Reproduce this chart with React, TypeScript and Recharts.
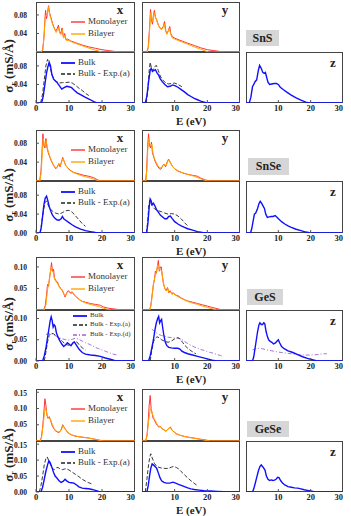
import React from 'react';
import { Line, LineChart, XAxis, YAxis } from 'recharts';

type Pt = [number, number];

// energy axis and tick sets
const energyTicks = [0, 10, 20, 30];
const snTicks = [0, 0.04, 0.08];
const gesTicks = [0, 0.05, 0.1];
const geseTicks = [0, 0.05, 0.1, 0.15];
const materials = ['SnS', 'SnSe', 'GeS', 'GeSe'];

// ---- SnS ----
const snsXMono: Pt[] = [[0,0],[1.5,0],[2,0.004],[2.4,0.03],[2.7,0.07],[2.9,0.09],[3.2,0.072],[3.5,0.085],[3.8,0.1],[4.1,0.085],[4.5,0.075],[5,0.062],[5.5,0.052],[6,0.045],[6.4,0.05],[6.8,0.058],[7.1,0.045],[7.5,0.04],[7.9,0.052],[8.3,0.032],[8.7,0.04],[9.1,0.026],[9.6,0.028],[10.5,0.024],[12,0.02],[14,0.015],[16,0.011],[18,0.008],[20,0.005],[22,0.003],[24,0.001],[26,0],[30,0]];
const snsXBi: Pt[] = [[0,0],[1.6,0],[2.1,0.006],[2.5,0.04],[2.8,0.075],[3.1,0.08],[3.4,0.078],[3.8,0.098],[4.2,0.08],[4.6,0.07],[5.1,0.058],[5.6,0.05],[6.1,0.042],[6.5,0.048],[6.9,0.052],[7.2,0.04],[7.6,0.038],[8,0.048],[8.4,0.03],[8.8,0.036],[9.2,0.025],[10,0.025],[11,0.021],[13,0.016],[15,0.011],[17,0.006],[19,0.002],[20,0],[30,0]];
const snsXBulk: Pt[] = [[0,0],[1.7,0],[2.2,0.015],[2.7,0.04],[3.2,0.065],[3.6,0.078],[4,0.088],[4.4,0.08],[4.8,0.062],[5.3,0.052],[5.8,0.048],[6.3,0.045],[7,0.038],[7.8,0.03],[8.5,0.033],[9.3,0.036],[10,0.035],[10.8,0.033],[11.5,0.028],[12.5,0.022],[13.5,0.018],[15,0.012],[16.5,0.007],[17.5,0.003],[18.5,0],[30,0]];
const snsXExp: Pt[] = [[1.4,0],[2,0.02],[2.5,0.05],[3,0.08],[3.5,0.094],[4,0.085],[4.5,0.07],[5,0.058],[5.6,0.05],[6.3,0.046],[7,0.043],[8,0.044],[9,0.044],[10,0.045],[11,0.043],[12,0.038],[13,0.032],[14,0.027],[15,0.021],[16,0.016]];
const snsYMono: Pt[] = [[0,0],[1.5,0],[1.9,0.01],[2.3,0.05],[2.6,0.092],[2.9,0.07],[3.2,0.06],[3.5,0.08],[3.8,0.09],[4.1,0.075],[4.5,0.07],[5,0.058],[5.5,0.052],[6,0.05],[6.5,0.055],[6.9,0.066],[7.3,0.045],[7.7,0.04],[8.1,0.047],[8.5,0.055],[8.8,0.04],[9.3,0.033],[10,0.03],[11,0.027],[12.5,0.023],[14,0.019],[16,0.014],[18,0.009],[20,0.005],[22,0.003],[24,0.001],[26,0],[30,0]];
const snsYBi: Pt[] = [[0,0],[1.6,0],[2,0.012],[2.4,0.055],[2.7,0.085],[3,0.072],[3.3,0.065],[3.7,0.085],[4,0.078],[4.4,0.07],[4.9,0.06],[5.4,0.052],[5.9,0.048],[6.4,0.052],[6.8,0.06],[7.2,0.046],[7.6,0.038],[8,0.045],[8.4,0.05],[8.8,0.038],[9.3,0.03],[10,0.028],[11,0.025],[12.5,0.021],[14,0.017],[16,0.011],[18,0.006],[19.5,0.002],[20.5,0],[30,0]];
const snsYBulk: Pt[] = [[0,0],[1,0],[1.5,0.015],[2,0.045],[2.5,0.07],[2.8,0.075],[3.2,0.068],[3.6,0.07],[4.1,0.072],[4.6,0.065],[5.1,0.06],[5.6,0.052],[6.2,0.046],[7,0.04],[7.8,0.035],[8.6,0.036],[9.4,0.039],[10.2,0.037],[11,0.034],[12,0.029],[13,0.024],[14,0.018],[15,0.014],[16,0.01],[17,0.007],[18,0.004],[19,0.002],[20,0],[30,0]];
const snsYExp: Pt[] = [[1.3,0],[1.8,0.03],[2.2,0.07],[2.5,0.088],[2.9,0.075],[3.3,0.07],[3.8,0.078],[4.4,0.081],[5,0.07],[5.6,0.058],[6.3,0.05],[7,0.045],[8,0.041],[9,0.042],[10,0.043],[11,0.04],[12,0.036],[12.5,0.033]];
const snsZBulk: Pt[] = [[0,0],[1,0],[1.5,0.012],[2,0.035],[2.4,0.04],[2.8,0.046],[3.3,0.05],[3.8,0.07],[4.2,0.081],[4.7,0.075],[5.2,0.066],[5.6,0.064],[6,0.066],[6.4,0.055],[6.8,0.045],[7.3,0.04],[8,0.041],[8.7,0.042],[9.4,0.042],[10,0.04],[10.6,0.034],[11.5,0.029],[12.5,0.024],[14,0.017],[15.5,0.011],[17,0.006],[18.5,0.002],[19.5,0],[30,0]];

// ---- SnSe ----
const snseXMono: Pt[] = [[0,0],[1.1,0],[1.5,0.02],[1.8,0.06],[2.1,0.1],[2.4,0.075],[2.7,0.07],[3,0.09],[3.3,0.072],[3.7,0.06],[4.2,0.05],[4.8,0.04],[5.4,0.032],[6,0.026],[6.5,0.03],[6.9,0.037],[7.3,0.03],[7.7,0.04],[8.1,0.05],[8.5,0.042],[9,0.033],[9.6,0.028],[10.5,0.022],[11.5,0.018],[13,0.015],[14.5,0.012],[16,0.01],[17.5,0.007],[18.5,0.003],[19.5,0],[30,0]];
const snseXBi: Pt[] = [[0,0],[1.2,0],[1.6,0.02],[1.9,0.06],[2.2,0.09],[2.5,0.078],[2.8,0.075],[3.1,0.085],[3.5,0.068],[3.9,0.058],[4.4,0.048],[5,0.038],[5.6,0.03],[6.1,0.028],[6.6,0.032],[7,0.036],[7.4,0.032],[7.8,0.042],[8.2,0.048],[8.6,0.04],[9.1,0.032],[9.8,0.026],[10.5,0.021],[12,0.016],[13.5,0.012],[15,0.009],[16.5,0.006],[18,0.003],[19,0],[30,0]];
const snseXBulk: Pt[] = [[0,0],[1.2,0],[1.6,0.012],[2,0.035],[2.4,0.06],[2.8,0.074],[3.2,0.078],[3.6,0.068],[4,0.056],[4.5,0.046],[5,0.038],[5.6,0.032],[6.3,0.028],[7,0.027],[7.6,0.03],[8,0.035],[8.4,0.03],[9,0.027],[9.8,0.023],[10.8,0.018],[12,0.013],[13.5,0.008],[15,0.005],[16.5,0.003],[18,0.001],[19,0],[30,0]];
const snseXExp: Pt[] = [[1.3,0],[1.8,0.025],[2.3,0.05],[2.8,0.065],[3.2,0.068],[3.6,0.06],[4.2,0.052],[5,0.046],[6,0.042],[7,0.04],[8,0.043],[9,0.047],[10,0.048],[11,0.044],[12,0.036],[13,0.028],[14,0.02],[15,0.014]];
const snseYMono: Pt[] = [[0,0],[1.1,0],[1.4,0.02],[1.7,0.07],[2,0.1],[2.3,0.075],[2.6,0.07],[2.9,0.082],[3.2,0.06],[3.6,0.05],[4.1,0.04],[4.7,0.032],[5.3,0.026],[5.8,0.025],[6.3,0.032],[6.8,0.036],[7.2,0.03],[7.7,0.04],[8.1,0.046],[8.6,0.04],[9.2,0.032],[10,0.026],[11,0.021],[12.5,0.017],[14,0.014],[15.5,0.012],[17,0.01],[18,0.006],[19.5,0.002],[21,0],[30,0]];
const snseYBi: Pt[] = [[0,0],[1.2,0],[1.5,0.025],[1.8,0.07],[2.1,0.09],[2.4,0.078],[2.7,0.074],[3,0.078],[3.4,0.058],[3.8,0.048],[4.3,0.04],[4.9,0.032],[5.5,0.028],[6,0.028],[6.5,0.034],[7,0.035],[7.4,0.032],[7.9,0.042],[8.3,0.045],[8.8,0.038],[9.4,0.03],[10.2,0.025],[11.5,0.02],[13,0.016],[14.5,0.013],[16,0.01],[17.5,0.006],[19,0.002],[20,0],[30,0]];
const snseYBulk: Pt[] = [[0,0],[1.4,0],[1.8,0.02],[2.2,0.055],[2.5,0.072],[2.8,0.068],[3.1,0.06],[3.5,0.063],[3.9,0.058],[4.4,0.05],[5,0.044],[5.6,0.038],[6.3,0.034],[7,0.03],[7.6,0.03],[8.2,0.035],[8.7,0.036],[9.2,0.031],[10,0.024],[11,0.019],[12,0.015],[13,0.012],[14,0.009],[15.5,0.006],[17,0.003],[18.5,0.001],[20,0],[30,0]];
const snseYExp: Pt[] = [[1.4,0],[1.8,0.03],[2.1,0.06],[2.4,0.07],[2.8,0.062],[3.3,0.055],[4,0.05],[5,0.047],[6,0.045],[7,0.042],[8,0.04],[9,0.041],[10,0.04],[11,0.036],[12,0.03],[13,0.022],[14,0.015]];
const snseZBulk: Pt[] = [[0,0],[1.4,0],[1.8,0.01],[2.2,0.025],[2.6,0.04],[3,0.042],[3.5,0.05],[4,0.062],[4.4,0.067],[4.9,0.062],[5.3,0.057],[5.7,0.052],[6.1,0.04],[6.6,0.033],[7.2,0.034],[7.8,0.035],[8.4,0.035],[9,0.037],[9.5,0.034],[10.2,0.029],[11,0.024],[12,0.019],[13,0.015],[14,0.012],[15.5,0.008],[17,0.005],[18.5,0.002],[20,0],[30,0]];

// ---- GeS ----
const gesXMono: Pt[] = [[0,0],[2.3,0],[2.8,0.01],[3.2,0.035],[3.5,0.06],[3.8,0.055],[4.1,0.075],[4.4,0.09],[4.7,0.11],[5,0.09],[5.3,0.095],[5.6,0.075],[6,0.068],[6.5,0.065],[7,0.055],[7.5,0.05],[8,0.046],[8.4,0.038],[8.8,0.03],[9.3,0.04],[9.8,0.045],[10.4,0.04],[11,0.042],[11.6,0.035],[12.3,0.03],[13,0.025],[14,0.02],[15,0.018],[16.5,0.015],[18,0.013],[19.5,0.011],[20.5,0.007],[22,0.004],[24,0.002],[26,0],[30,0]];
const gesXBi: Pt[] = [[0,0],[2.5,0],[3,0.012],[3.4,0.04],[3.7,0.06],[4,0.065],[4.3,0.085],[4.6,0.1],[4.9,0.09],[5.2,0.088],[5.5,0.075],[6,0.066],[6.5,0.062],[7,0.054],[7.5,0.048],[8,0.045],[8.5,0.036],[8.9,0.032],[9.4,0.04],[9.9,0.043],[10.5,0.038],[11.1,0.04],[11.7,0.033],[12.5,0.028],[13.5,0.022],[14.5,0.018],[16,0.014],[17.5,0.011],[19,0.008],[20.5,0.004],[22,0.001],[23,0],[30,0]];
const gesXBulk: Pt[] = [[0,0],[2,0],[2.5,0.012],[3,0.03],[3.5,0.055],[4,0.08],[4.3,0.095],[4.6,0.104],[4.9,0.095],[5.2,0.08],[5.5,0.085],[5.8,0.082],[6.2,0.066],[6.7,0.056],[7.2,0.048],[7.8,0.04],[8.4,0.034],[9,0.038],[9.5,0.043],[10,0.04],[10.6,0.036],[11.2,0.043],[11.6,0.045],[12.2,0.038],[13,0.028],[14,0.02],[15,0.016],[16.5,0.014],[18,0.013],[19.5,0.011],[21,0.007],[22.5,0.004],[24,0.001],[25,0],[30,0]];
const gesXExpA: Pt[] = [[2.5,0],[3,0.02],[3.5,0.045],[4,0.06],[4.6,0.066],[5.3,0.064],[6,0.06],[7,0.054],[8,0.046],[9,0.039],[10,0.037],[11,0.04],[11.8,0.046],[12.5,0.044],[13.3,0.036],[14.2,0.03],[15,0.026]];
const gesXExpD: Pt[] = [[3,0.062],[3.5,0.064],[4,0.065],[5,0.063],[6,0.059],[7,0.055],[8,0.052],[9,0.05],[10,0.049],[11,0.051],[12,0.054],[13,0.051],[14,0.047],[15,0.043],[16,0.04],[17,0.036],[18,0.032],[19,0.029],[20,0.026],[21,0.023],[22,0.02],[23,0.017],[24,0.015],[25,0.014]];
const gesYMono: Pt[] = [[0,0],[2.3,0],[2.7,0.01],[3.1,0.035],[3.5,0.06],[3.8,0.07],[4.1,0.09],[4.4,0.085],[4.7,0.1],[5,0.115],[5.3,0.09],[5.6,0.1],[5.9,0.1],[6.2,0.08],[6.6,0.06],[7,0.05],[7.4,0.045],[7.8,0.052],[8.2,0.04],[8.6,0.045],[9.1,0.038],[9.6,0.04],[10.2,0.035],[11,0.033],[12,0.028],[13,0.024],[14,0.021],[15.5,0.018],[17,0.015],[18.5,0.012],[20,0.009],[21.5,0.006],[23,0.003],[24,0.001],[25,0],[30,0]];
const gesYBi: Pt[] = [[0,0],[2.4,0],[2.8,0.012],[3.2,0.04],[3.6,0.065],[3.9,0.075],[4.2,0.085],[4.5,0.09],[4.8,0.105],[5.1,0.1],[5.4,0.092],[5.7,0.095],[6,0.09],[6.3,0.075],[6.7,0.058],[7.1,0.048],[7.5,0.044],[7.9,0.05],[8.3,0.04],[8.7,0.043],[9.2,0.036],[9.7,0.038],[10.3,0.034],[11,0.031],[12,0.027],[13,0.023],[14,0.02],[15.5,0.016],[17,0.013],[18.5,0.009],[20,0.006],[21.5,0.003],[23,0],[30,0]];
const gesYBulk: Pt[] = [[0,0],[2,0],[2.5,0.012],[3,0.03],[3.5,0.05],[4,0.075],[4.4,0.09],[4.8,0.1],[5.1,0.105],[5.4,0.09],[5.7,0.095],[6,0.098],[6.3,0.08],[6.7,0.06],[7.1,0.045],[7.6,0.036],[8.2,0.032],[9,0.031],[10,0.03],[11,0.03],[11.6,0.028],[12.2,0.023],[13,0.02],[14,0.017],[15.5,0.014],[17,0.011],[18.5,0.008],[20,0.005],[21.5,0.002],[23,0],[30,0]];
const gesYExpA: Pt[] = [[2.5,0],[3,0.025],[3.5,0.045],[4,0.053],[4.6,0.057],[5.2,0.055],[6,0.05],[7,0.046],[8,0.044],[9,0.047],[10,0.052],[11,0.055],[11.6,0.052],[12.4,0.044],[13.2,0.036],[14,0.03],[15,0.024],[16,0.019],[16.5,0.017]];
const gesYExpD: Pt[] = [[3,0.075],[4,0.068],[5,0.063],[6,0.06],[7,0.058],[8,0.056],[9,0.055],[10,0.054],[11,0.054],[12,0.052],[13,0.046],[14,0.041],[15,0.037],[16,0.033],[17,0.03],[18,0.027],[19,0.025],[20,0.022],[21,0.02],[22,0.018],[23,0.015],[24,0.013],[25,0.011]];
const gesZBulk: Pt[] = [[0,0],[2,0],[2.4,0.01],[2.8,0.03],[3.2,0.05],[3.6,0.07],[4,0.085],[4.3,0.09],[4.7,0.086],[5.1,0.086],[5.5,0.09],[5.8,0.088],[6.2,0.07],[6.6,0.058],[7,0.05],[7.5,0.046],[8,0.044],[8.5,0.04],[9,0.042],[9.5,0.046],[10,0.05],[10.4,0.043],[11,0.034],[11.8,0.029],[13,0.024],[14.5,0.02],[16,0.015],[17.5,0.01],[19,0.006],[20.5,0.003],[22,0],[30,0]];
const gesZExpD: Pt[] = [[2,0.026],[3,0.029],[4,0.03],[5,0.029],[6,0.027],[8,0.024],[10,0.021],[12,0.019],[14,0.017],[16,0.015],[18,0.014],[20,0.014],[22,0.015],[24,0.017],[25,0.017]];

// ---- GeSe ----
const geseXMono: Pt[] = [[0,0],[1.2,0],[1.6,0.01],[2,0.04],[2.4,0.09],[2.7,0.13],[3,0.11],[3.3,0.08],[3.6,0.07],[4,0.075],[4.4,0.065],[4.8,0.05],[5.3,0.04],[5.8,0.032],[6.4,0.028],[7,0.026],[7.6,0.034],[8.1,0.05],[8.5,0.042],[9,0.035],[9.6,0.026],[10.5,0.02],[11.5,0.016],[13,0.013],[14.5,0.011],[16,0.009],[17.5,0.006],[19,0.003],[20,0.001],[21,0],[30,0]];
const geseXBi: Pt[] = [[0,0],[1.3,0],[1.7,0.012],[2.1,0.045],[2.5,0.08],[2.8,0.1],[3.1,0.095],[3.4,0.078],[3.8,0.07],[4.2,0.07],[4.6,0.06],[5,0.05],[5.5,0.038],[6,0.032],[6.6,0.028],[7.2,0.028],[7.8,0.038],[8.2,0.048],[8.7,0.04],[9.2,0.032],[10,0.024],[11,0.018],[12.5,0.014],[14,0.012],[15.5,0.01],[17,0.007],[18.5,0.004],[19.5,0.001],[20.5,0],[30,0]];
const geseXBulk: Pt[] = [[0,0],[1.5,0],[2,0.015],[2.5,0.04],[3,0.065],[3.5,0.085],[3.9,0.098],[4.3,0.092],[4.8,0.078],[5.3,0.062],[5.8,0.05],[6.4,0.043],[7,0.035],[7.6,0.03],[8.2,0.033],[8.8,0.04],[9.3,0.035],[10,0.03],[10.8,0.029],[11.5,0.028],[12.3,0.022],[13,0.016],[14,0.012],[15,0.011],[16,0.01],[17,0.008],[18,0.005],[19,0.002],[20,0],[30,0]];
const geseXExp: Pt[] = [[1,0],[1.5,0.02],[2,0.05],[2.5,0.085],[3,0.105],[3.4,0.11],[3.8,0.1],[4.3,0.088],[4.9,0.075],[5.5,0.07],[6.1,0.076],[6.7,0.077],[7.3,0.072],[8,0.07],[8.6,0.072],[9.2,0.073],[10,0.069],[11,0.062],[12,0.055],[13,0.048],[14,0.04],[15,0.034],[16,0.029],[17,0.025]];
const geseYMono: Pt[] = [[0,0],[1.1,0],[1.5,0.015],[1.9,0.06],[2.2,0.11],[2.5,0.14],[2.8,0.1],[3.1,0.085],[3.4,0.07],[3.8,0.065],[4.2,0.055],[4.7,0.048],[5.2,0.042],[5.6,0.046],[6.1,0.038],[6.7,0.035],[7.3,0.03],[7.8,0.034],[8.3,0.04],[8.7,0.043],[9.2,0.033],[9.8,0.028],[10.5,0.022],[11.5,0.018],[13,0.014],[14.5,0.011],[16,0.009],[17.5,0.006],[19,0.004],[20,0.002],[21,0],[30,0]];
const geseYBi: Pt[] = [[0,0],[1.2,0],[1.6,0.02],[2,0.06],[2.4,0.09],[2.7,0.1],[3,0.09],[3.3,0.08],[3.7,0.07],[4.1,0.062],[4.6,0.052],[5.1,0.045],[5.5,0.046],[6,0.04],[6.6,0.035],[7.2,0.031],[7.7,0.033],[8.2,0.04],[8.6,0.042],[9.1,0.035],[9.7,0.029],[10.5,0.023],[11.5,0.018],[13,0.014],[14.5,0.011],[16,0.008],[17.5,0.006],[19,0.003],[20,0.001],[21,0],[30,0]];
const geseYBulk: Pt[] = [[0,0],[1.5,0],[1.9,0.02],[2.3,0.05],[2.7,0.075],[3.1,0.088],[3.5,0.085],[4,0.08],[4.5,0.074],[5,0.06],[5.5,0.045],[6,0.035],[6.7,0.03],[7.5,0.028],[8.5,0.028],[9.5,0.031],[10.3,0.028],[11,0.025],[12,0.021],[13,0.017],[14,0.013],[15,0.01],[16,0.008],[17.5,0.006],[19,0.004],[21,0.003],[23,0.002],[25,0.001],[27,0],[30,0]];
const geseYExp: Pt[] = [[1,0],[1.5,0.04],[2,0.085],[2.4,0.11],[2.7,0.12],[3,0.11],[3.4,0.1],[3.8,0.09],[4.4,0.082],[5,0.078],[6,0.075],[7,0.074],[8,0.074],[9,0.078],[9.7,0.08],[10.5,0.077],[11.3,0.072],[12,0.064],[13,0.054],[14,0.044],[15,0.035],[16,0.027],[17,0.02]];
const geseZBulk: Pt[] = [[0,0],[2,0],[2.4,0.01],[2.8,0.025],[3.3,0.045],[3.8,0.065],[4.3,0.08],[4.7,0.085],[5.1,0.08],[5.5,0.075],[5.9,0.068],[6.3,0.05],[6.8,0.04],[7.3,0.036],[7.8,0.038],[8.3,0.036],[8.8,0.037],[9.3,0.04],[9.8,0.046],[10.2,0.045],[10.7,0.036],[11.3,0.028],[12,0.022],[13,0.017],[14,0.015],[15,0.013],[16,0.012],[17,0.01],[18,0.007],[19,0.005],[20,0.003],[21,0.001],[22,0],[30,0]];

const RED = '#ff3333';
const ORANGE = '#ffa500';
const BLUE = '#1010ff';
const BLACK = '#222';
const PURPLE = '#9966cc';
const SERIF = '"Liberation Serif", "DejaVu Serif", serif';

type Series = { pts: Pt[]; color: string; width: number; dash?: string };

const mono = (pts: Pt[]): Series => ({ pts, color: RED, width: 1 });
const bi = (pts: Pt[]): Series => ({ pts, color: ORANGE, width: 1 });
const bulk = (pts: Pt[]): Series => ({ pts, color: BLUE, width: 1.4 });
const expA = (pts: Pt[]): Series => ({ pts, color: BLACK, width: 0.9, dash: '4 2' });
const expD = (pts: Pt[]): Series => ({ pts, color: PURPLE, width: 0.9, dash: '4 2 1 2' });

const cols = [
  { l: 36, r: 135 },
  { l: 142, r: 240 },
  { l: 246, r: 343 },
];

const groups = [
  {
    name: materials[0], top: 2, mid: 52, bot: 103, yMax: 0.108, yMaxB: 0.11, ticks: snTicks,
    box: { l: 246, t: 30, w: 33, h: 16 },
    topX: [mono(snsXMono), bi(snsXBi)], topY: [mono(snsYMono), bi(snsYBi)],
    botX: [expA(snsXExp), bulk(snsXBulk)], botY: [expA(snsYExp), bulk(snsYBulk)], botZ: [bulk(snsZBulk)],
    legend: ['Bulk', 'Bulk - Exp.(a)'],
  },
  {
    name: materials[1], top: 130, mid: 181, bot: 233, yMax: 0.108, yMaxB: 0.11, ticks: snTicks,
    box: { l: 248, t: 158, w: 41, h: 17 },
    topX: [mono(snseXMono), bi(snseXBi)], topY: [mono(snseYMono), bi(snseYBi)],
    botX: [expA(snseXExp), bulk(snseXBulk)], botY: [expA(snseYExp), bulk(snseYBulk)], botZ: [bulk(snseZBulk)],
    legend: ['Bulk', 'Bulk - Exp.(a)'],
  },
  {
    name: materials[2], top: 257, mid: 310, bot: 361, yMax: 0.123, yMaxB: 0.12, ticks: gesTicks,
    box: { l: 247, t: 289, w: 36, h: 16 },
    topX: [mono(gesXMono), bi(gesXBi)], topY: [mono(gesYMono), bi(gesYBi)],
    botX: [expD(gesXExpD), expA(gesXExpA), bulk(gesXBulk)],
    botY: [expD(gesYExpD), expA(gesYExpA), bulk(gesYBulk)],
    botZ: [expD(gesZExpD), bulk(gesZBulk)],
    legend: ['Bulk', 'Bulk - Exp.(a)', 'Bulk - Exp.(d)'],
  },
  {
    name: materials[3], top: 389, mid: 441, bot: 492, yMax: 0.16, yMaxB: 0.16, ticks: geseTicks,
    box: { l: 247, t: 421, w: 42, h: 16 },
    topX: [mono(geseXMono), bi(geseXBi)], topY: [mono(geseYMono), bi(geseYBi)],
    botX: [expA(geseXExp), bulk(geseXBulk)], botY: [expA(geseYExp), bulk(geseYBulk)], botZ: [bulk(geseZBulk)],
    legend: ['Bulk', 'Bulk - Exp.(a)'],
  },
];

const toRows = (pts: Pt[]) => pts.map(([e, v]) => ({ e, v }));

interface PanelProps {
  left: number;
  right: number;
  top: number;
  bottom: number;
  yMax: number;
  yTicks: number[];
  showY: boolean;
  showX: boolean;
  series: Series[];
}

function Panel({ left, right, top, bottom, yMax, yTicks, showY, showX, series }: PanelProps) {
  const w = right - left;
  const h = bottom - top;
  const axisW = showY ? 34 : 0;
  const axisH = showX ? 16 : 0;
  return (
    <div style={{ position: 'absolute', left: left - axisW, top, width: w + axisW, height: h + axisH }}>
      <div
        style={{
          position: 'absolute', left: axisW, top: 0, width: w, height: h,
          border: '1px solid #444', boxSizing: 'border-box',
        }}
      />
      <div style={{ position: 'absolute', left: 0, top: 0 }}>
        <LineChart width={w + axisW} height={h + axisH} margin={{ top: 0, right: 0, bottom: 0, left: 0 }}>
          <XAxis
            xAxisId="b" type="number" dataKey="e" domain={[0, 30]} ticks={energyTicks} height={axisH}
            axisLine={false} tickSize={-3} tickMargin={5} stroke="#555" allowDataOverflow
            tick={showX ? { fontSize: 8.5, fontFamily: SERIF, fontWeight: 'bold', fill: '#222' } : false}
          />
          <XAxis
            xAxisId="t" orientation="top" type="number" domain={[0, 30]} ticks={energyTicks} height={0}
            axisLine={false} tickSize={-3} tick={false} stroke="#555"
          />
          <YAxis
            yAxisId="l" type="number" domain={[0, yMax]} ticks={yTicks} width={axisW}
            axisLine={false} tickSize={-3} tickMargin={12} stroke="#555" allowDataOverflow
            tickFormatter={(v: number) => v.toFixed(2)}
            tick={showY ? { fontSize: 7.5, fontFamily: SERIF, fontWeight: 'bold', fill: '#222' } : false}
          />
          <YAxis
            yAxisId="r" orientation="right" type="number" domain={[0, yMax]} ticks={yTicks} width={0}
            axisLine={false} tickSize={-3} tick={false} stroke="#555"
          />
          {series.map((s, i) => (
            <Line
              key={i}
              xAxisId="b"
              yAxisId="l"
              data={toRows(s.pts)}
              dataKey="v"
              type="linear"
              stroke={s.color}
              strokeWidth={s.width}
              strokeDasharray={s.dash}
              dot={false}
              activeDot={false}
              isAnimationActive={false}
            />
          ))}
        </LineChart>
      </div>
    </div>
  );
}

function LegendRow({ x, y, label, s, size }: { x: number; y: number; label: string; s: Series; size: number }) {
  return (
    <>
      <svg style={{ position: 'absolute', left: x, top: y - 2, overflow: 'visible' }} width={14} height={4}>
        <line x1={0} y1={2} x2={14} y2={2} stroke={s.color} strokeWidth={s.width + 0.4} strokeDasharray={s.dash} />
      </svg>
      <div
        style={{
          position: 'absolute', left: x + 17, top: y - size * 0.58, fontSize: size, fontFamily: SERIF,
          color: '#333', whiteSpace: 'nowrap', lineHeight: 1.1,
        }}
      >
        {label}
      </div>
    </>
  );
}

function Letter({ x, y, ch }: { x: number; y: number; ch: string }) {
  return (
    <div
      style={{
        position: 'absolute', left: x, top: y, transform: 'translate(-50%, -50%)', fontSize: 13,
        fontFamily: SERIF, fontWeight: 'bold', color: '#222', lineHeight: 1,
      }}
    >
      {ch}
    </div>
  );
}

export default function App() {
  return (
    <div style={{ position: 'fixed', left: 0, top: 0, width: 351, height: 516, background: '#fff', overflow: 'hidden' }}>
      {groups.map((g) => {
        const small = g.legend.length > 2;
        return (
          <React.Fragment key={g.name}>
            <Panel left={cols[0].l} right={cols[0].r} top={g.top} bottom={g.mid} yMax={g.yMax} yTicks={g.ticks} showY showX={false} series={g.topX} />
            <Panel left={cols[1].l} right={cols[1].r} top={g.top} bottom={g.mid} yMax={g.yMax} yTicks={g.ticks} showY={false} showX={false} series={g.topY} />
            <Panel left={cols[0].l} right={cols[0].r} top={g.mid} bottom={g.bot} yMax={g.yMaxB} yTicks={g.ticks} showY showX series={g.botX} />
            <Panel left={cols[1].l} right={cols[1].r} top={g.mid} bottom={g.bot} yMax={g.yMaxB} yTicks={g.ticks} showY={false} showX series={g.botY} />
            <Panel left={cols[2].l} right={cols[2].r} top={g.mid} bottom={g.bot} yMax={g.yMaxB} yTicks={g.ticks} showY={false} showX series={g.botZ} />

            <div
              style={{
                position: 'absolute', left: g.box.l, top: g.box.t, width: g.box.w, height: g.box.h,
                background: '#d6d6d6', fontFamily: SERIF, fontWeight: 'bold', fontSize: 12, color: '#222',
                display: 'flex', alignItems: 'center', justifyContent: 'center',
              }}
            >
              {g.name}
            </div>

            <Letter x={cols[0].r - 15} y={g.top + 7} ch="x" />
            <Letter x={cols[1].r - 15} y={g.top + 7} ch="y" />
            <Letter x={cols[2].r - 10} y={g.mid + 10} ch="z" />

            <LegendRow x={cols[0].l + 35} y={g.top + 20} label="Monolayer" s={mono([])} size={9} />
            <LegendRow x={cols[0].l + 35} y={g.top + 32} label="Bilayer" s={bi([])} size={9} />
            {small ? (
              <>
                <LegendRow x={cols[0].l + 37} y={g.mid + 6} label={g.legend[0]} s={bulk([])} size={7} />
                <LegendRow x={cols[0].l + 37} y={g.mid + 15} label={g.legend[1]} s={expA([])} size={7} />
                <LegendRow x={cols[0].l + 37} y={g.mid + 25} label={g.legend[2]} s={expD([])} size={7} />
              </>
            ) : (
              <>
                <LegendRow x={cols[0].l + 25} y={g.mid + 11} label={g.legend[0]} s={bulk([])} size={9} />
                <LegendRow x={cols[0].l + 25} y={g.mid + 22} label={g.legend[1]} s={expA([])} size={9} />
              </>
            )}

            <div
              style={{
                position: 'absolute', left: 10, top: g.mid + 14, transform: 'translate(-50%, -50%) rotate(-90deg)',
                fontFamily: SERIF, fontSize: 13, fontWeight: 'bold', color: '#222', whiteSpace: 'nowrap', lineHeight: 1,
              }}
            >
              σ<sub style={{ fontSize: 8 }}>r</sub> (mS/Å)
            </div>
            <div
              style={{
                position: 'absolute', left: (cols[1].l + cols[1].r) / 2, top: g.bot + 18,
                transform: 'translate(-50%, -50%)', fontFamily: SERIF, fontSize: 11, fontWeight: 'bold',
                color: '#222', whiteSpace: 'nowrap', lineHeight: 1,
              }}
            >
              E (eV)
            </div>
          </React.Fragment>
        );
      })}
    </div>
  );
}
